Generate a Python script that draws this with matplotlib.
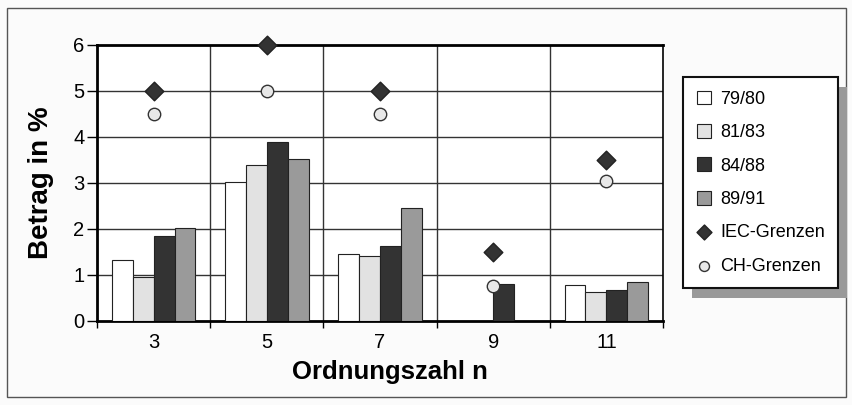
import numpy as np
import matplotlib
matplotlib.use("Agg")
import matplotlib.pyplot as plt
from matplotlib.patches import Rectangle

plt.rcParams["font.family"] = ["Liberation Sans", "DejaVu Sans"]

# Daten
ordnung = [3, 5, 7, 9, 11]
serien = ["79/80", "81/83", "84/88", "89/91"]
w_7980 = [1.33, 3.02, 1.45, np.nan, 0.78]
w_8183 = [0.95, 3.40, 1.42, np.nan, 0.62]
w_8488 = [1.85, 3.90, 1.62, 0.80, 0.67]
w_8991 = [2.02, 3.52, 2.45, np.nan, 0.85]
iec_grenzen = [5.0, 6.0, 5.0, 1.5, 3.5]
ch_grenzen = [4.5, 5.0, 4.5, 0.77, 3.04]

farben = ["#ffffff", "#e2e2e2", "#333333", "#9a9a9a"]

fig = plt.figure(figsize=(8.53, 4.05), dpi=100)
fig.patch.set_facecolor("#fbfbfb")
# Rahmen um die ganze Grafik
fig.add_artist(Rectangle((7 / 853, 8 / 405), 839 / 853, 389 / 405,
                         transform=fig.transFigure, fill=False,
                         edgecolor="#555555", linewidth=1.0))

ax = fig.add_axes([97 / 853, 1 - 321 / 405, 566 / 853, 276 / 405])
ax.set_facecolor("white")

x = np.arange(len(ordnung))
bw = 0.185
werte = [w_7980, w_8183, w_8488, w_8991]
handles = []
for i, (name, vals) in enumerate(zip(serien, werte)):
    h = ax.bar(x + (i - 1.5) * bw, vals, width=bw, color=farben[i],
               edgecolor="#222222", linewidth=0.8, label=name, zorder=3)
    handles.append(h)

h_iec = ax.scatter(x, iec_grenzen, marker="D", s=90, color="#333333",
                   edgecolor="#222222", zorder=5, label="IEC-Grenzen", clip_on=False)
h_ch = ax.scatter(x, ch_grenzen, marker="o", s=80, color="#e8e8e8",
                  edgecolor="#333333", linewidth=1.0, zorder=5, label="CH-Grenzen")
handles += [h_iec, h_ch]

ax.set_xlim(-0.5, len(ordnung) - 0.5)
ax.set_ylim(0, 6)
ax.set_yticks(range(0, 7))
ax.set_xticks(x)
ax.set_xticklabels([str(o) for o in ordnung])
ax.set_xticks(np.arange(-0.5, len(ordnung)), minor=True)
ax.tick_params(axis="x", which="major", length=0, labelsize=14.5, pad=9)
ax.tick_params(axis="x", which="minor", length=5, width=1.0, direction="out")
ax.tick_params(axis="y", length=7, width=1.0, labelsize=14.5, pad=2, direction="out")

# Gitterlinien
for yv in range(1, 6):
    ax.axhline(yv, color="#333333", linewidth=1.0, zorder=1)
for xv in np.arange(0.5, len(ordnung) - 0.5):
    ax.axvline(xv, color="#333333", linewidth=1.0, zorder=1)

for side in ["left", "bottom", "top"]:
    ax.spines[side].set_linewidth(2.0)
ax.spines["right"].set_linewidth(1.2)

ax.set_ylabel("Betrag in %", fontsize=20, fontweight="bold")
ax.set_xlabel("Ordnungszahl n", fontsize=18.5, fontweight="bold")
ax.yaxis.set_label_coords(-0.076, 0.5)
ax.xaxis.set_label_coords(0.517, -0.14)

leg = fig.legend(handles=handles, labels=[h.get_label() for h in handles],
                 loc="upper left", bbox_to_anchor=(683 / 853, 1 - 77 / 405),
                 frameon=True, fancybox=False, edgecolor="#111111",
                 fontsize=13, labelspacing=0.9, handlelength=0.8,
                 handleheight=0.8, handletextpad=0.5, borderpad=0.75,
                 borderaxespad=0, markerscale=0.8)
leg.get_frame().set_linewidth(1.5)
leg.get_frame().set_facecolor("white")
leg.get_frame().set_alpha(1)
leg.set_zorder(10)

# Schatten des Legendenkastens
fig.canvas.draw()
bb = leg.get_window_extent().transformed(fig.transFigure.inverted())
fig.add_artist(Rectangle((bb.x0 + 9 / 853, bb.y0 - 10 / 405), bb.width, bb.height,
                         transform=fig.transFigure, facecolor="#999999",
                         edgecolor="none", zorder=9))

fig.savefig("out.png", dpi=100, facecolor=fig.get_facecolor())
